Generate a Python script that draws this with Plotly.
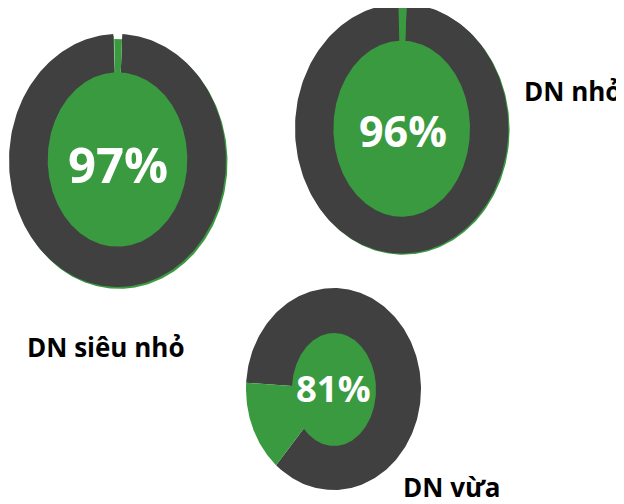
import numpy as np
import plotly.graph_objects as go

# ---- data ----
categories = ["DN siêu nhỏ", "DN nhỏ", "DN vừa"]
rate_labels = ["97%", "96%", "81%"]
green_share = [1.3, 1.25, 14.6]     # % of the outer ring drawn green
dark_share = [98.7, 98.75, 85.4]    # % of the outer ring drawn dark grey

# ---- layout / style (pixel space of the 624x504 picture) ----
GREEN = "#3A9A40"
DARK = "#404040"
FONT = "Open Sans"
PAGE_OFFSET = 8  # browser body margin
geo = [
    dict(cx=117.5, cy=160.5, rx=108.5, ry=126.5, hcx=117.5, hcy=159.5, hrx=69.8, hry=87.2,
         start=-2.2, gr=0.96, gap=True, back=(1.5, 1.8), tx=118, ty=164, fs=49,
         lx=105, ly=347, ls=26),
    dict(cx=401.7, cy=128.5, rx=106.7, ry=125.0, hcx=401.7, hcy=128.7, hrx=68.3, hry=88.0,
         start=-1.8, gr=1.0, gap=False, back=(1.2, 1.2), tx=403, ty=130, fs=43,
         lx=572.5, ly=91, ls=26),
    dict(cx=333.5, cy=389.0, rx=87.5, ry=101.0, hcx=334.0, hcy=389.5, hrx=42.0, hry=56.5,
         start=221.0, gr=1.0, gap=False, back=None, tx=333, ty=388, fs=36.5,
         lx=451.5, ly=486.5, ls=26),
]


def sector(cx, cy, rx, ry, a0, a1, n=240):
    th = np.radians(np.linspace(a0, a1, n))
    x = np.concatenate([[cx], cx + rx * np.sin(th), [cx]])
    y = np.concatenate([[cy], cy - ry * np.cos(th), [cy]])
    return x, y


def ellipse(cx, cy, rx, ry, n=360):
    th = np.radians(np.linspace(0, 360, n))
    return cx + rx * np.sin(th), cy - ry * np.cos(th)


def poly(x, y, color):
    return go.Scatter(x=x, y=y, mode="lines", fill="toself", fillcolor=color,
                      line=dict(width=0, color=color), hoverinfo="skip", showlegend=False)


fig = go.Figure()
annotations = []
for i, g in enumerate(geo):
    gdeg = green_share[i] / 100 * 360
    ddeg = dark_share[i] / 100 * 360
    if g["back"] is not None:
        bx, by = ellipse(g["cx"] + g["back"][0], g["cy"] + g["back"][1], g["rx"], g["ry"])
        fig.add_trace(poly(bx, by, GREEN))
    a0 = g["start"]
    x, y = sector(g["cx"], g["cy"], g["rx"], g["ry"], a0 + gdeg, a0 + gdeg + ddeg)
    fig.add_trace(poly(x, y, DARK))
    if g["gap"]:
        x, y = sector(g["cx"], g["cy"], g["rx"] + 0.5, g["ry"] + 0.5, a0, a0 + gdeg, 40)
        fig.add_trace(poly(x, y, "white"))
    x, y = sector(g["cx"], g["cy"], g["rx"] * g["gr"], g["ry"] * g["gr"], a0, a0 + gdeg, 60)
    fig.add_trace(poly(x, y, GREEN))
    hx, hy = ellipse(g["hcx"], g["hcy"], g["hrx"], g["hry"])
    fig.add_trace(poly(hx, hy, GREEN))

    annotations.append(dict(x=g["tx"], y=g["ty"], xref="x", yref="y", text=rate_labels[i],
                            showarrow=False, xanchor="center", yanchor="middle",
                            font=dict(family=FONT, size=g["fs"], color="white", weight=700)))
    annotations.append(dict(x=g["lx"], y=g["ly"], xref="x", yref="y", text=categories[i],
                            showarrow=False, xanchor="center", yanchor="middle",
                            font=dict(family=FONT, size=g["ls"], color="black", weight=700)))

fig.update_layout(
    width=624 - PAGE_OFFSET, height=504 - PAGE_OFFSET,
    margin=dict(l=0, r=0, t=0, b=0),
    paper_bgcolor="white", plot_bgcolor="white",
    xaxis=dict(range=[PAGE_OFFSET, 624], visible=False, fixedrange=True),
    yaxis=dict(range=[504, PAGE_OFFSET], visible=False, fixedrange=True),
    annotations=annotations,
    showlegend=False,
)

fig.write_html("out.html", config={"displayModeBar": False})
